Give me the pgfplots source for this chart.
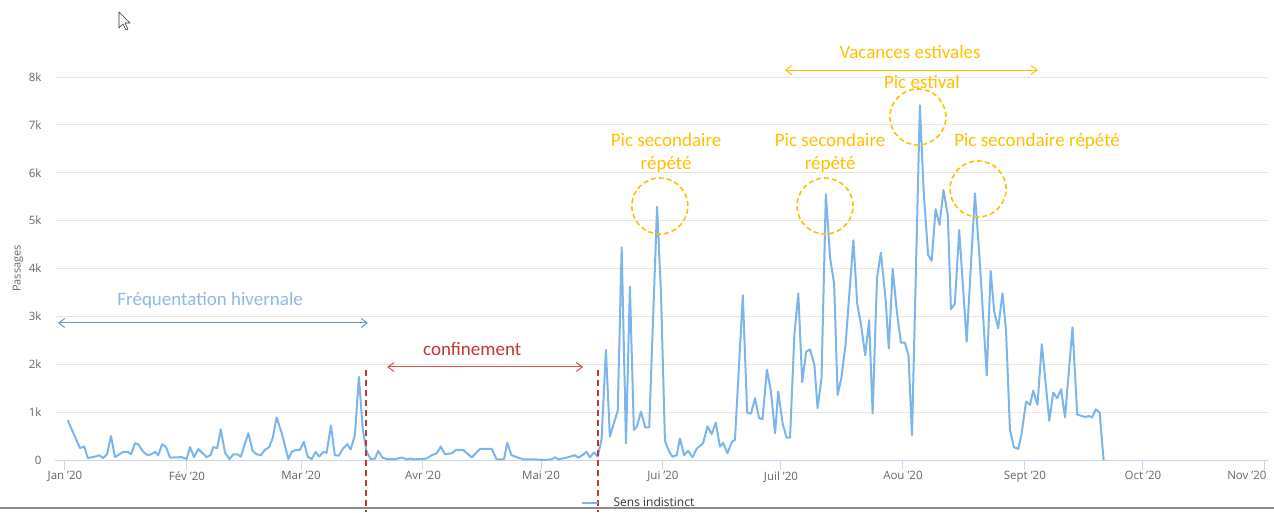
\documentclass[border=0pt]{standalone}
\usepackage{fontspec}
\setmainfont{Open Sans}
\newfontfamily\calfont{Carlito}
\usepackage{pgfplots}
\pgfplotsset{compat=1.18}
\usetikzlibrary{arrows.meta}
\definecolor{hc}{HTML}{7CB5EC}
\definecolor{gridc}{HTML}{E6E6E6}
\definecolor{axisc}{HTML}{CCD6EB}
\definecolor{labc}{HTML}{666666}
\definecolor{gold}{HTML}{FFC000}
\definecolor{lblue}{HTML}{8DB9E6}
\definecolor{mblue}{HTML}{5B9BD5}
\definecolor{dred}{HTML}{C0392B}
\definecolor{ared}{HTML}{D9534F}
\pgfplotstableread{
x y
0.7 830
3.8 250
4.9 280
5.8 40
7.6 70
8.7 100
9.7 40
10.7 120
11.7 500
12.7 60
14.8 170
15.9 170
16.8 120
17.8 350
18.6 330
19.9 170
21 100
22 120
22.9 170
23.7 100
24.7 330
25.7 270
26.7 50
29.7 60
30.9 20
31.8 270
32.8 60
33.9 230
35 140
36 60
37 100
37.7 270
38.7 250
39.6 640
40.7 150
41.8 20
42.8 120
43.8 120
44.7 70
46.6 560
47.7 190
48.7 120
49.8 100
50.8 210
51.9 270
52.8 460
53.8 890
55.1 560
56.8 15
57.6 170
58.7 210
59.7 210
60.7 380
61.7 70
62.7 20
63.7 170
64.6 70
65.7 170
66.5 150
67.6 720
68.6 100
69.6 90
70.7 240
71.8 330
72.6 220
73.7 520
74.7 1740
75.7 630
76.7 170
77.7 20
78.8 30
79.6 190
80.7 50
81.8 20
83.9 20
85.6 50
86.9 15
87.7 30
89 15
90.7 20
91.9 30
93.2 100
94.5 140
95.5 280
96.6 120
98.3 140
99.4 210
101.2 210
103.4 55
105.5 230
108.5 230
109.7 15
111.6 15
112.4 360
113.5 100
115.7 35
116.5 15
119 15
122 0
123.7 15
124.6 55
125.4 15
127.1 40
128.4 70
129.6 100
130.5 50
131.5 100
132.6 170
133.4 55
134.5 160
135.4 70
136.4 440
137.5 2300
138.5 490
140.5 1030
141.5 4440
142.6 350
143.6 3620
144.6 630
145.4 700
146.4 1010
147.5 680
148.5 680
150.5 5290
151.5 3480
152.5 400
153.6 170
154.4 70
155.5 100
156.3 450
157.4 100
158.4 190
159.5 55
160.6 240
162.2 350
163.3 700
164.4 540
165.4 780
166.5 280
167.3 360
168.4 140
169.5 380
170.3 420
172.3 3440
173.4 990
174.4 970
175.4 1290
176.4 880
177.3 850
178.4 1890
179.4 1460
180.5 560
181.3 1430
182.4 770
183.4 470
184.3 470
185.4 2610
186.4 3480
187.4 1630
188.4 2260
189.4 2310
190.5 1980
191.3 1080
192.3 1710
193.4 5550
194.5 4210
195.5 3690
196.4 1360
197.4 1740
198.4 2400
200.4 4590
201.4 3240
202.3 2850
203.4 2190
204.4 2920
205.3 970
206.4 3800
207.4 4330
208.6 3340
209.4 2330
210.4 3990
211.5 3060
212.5 2450
213.5 2450
214.4 2190
215.3 520
217.3 7410
218.3 5570
219.4 4280
220.3 4160
221.3 5240
222.3 4910
223.3 5640
224.4 5110
225.2 3150
226.2 3270
227.3 4800
229.2 2470
231.3 5570
232.4 4310
234.3 1770
235.3 3950
236.2 3100
237.2 2750
238.3 3480
239.2 2710
240.2 630
241.2 270
242.3 230
243.1 520
244.3 1220
245.3 1150
246.1 1450
247.2 1150
248.3 2420
250.2 820
251.2 1410
252.2 1290
253.2 1480
254.2 890
256.1 2770
257.3 950
258.4 920
259.4 900
260.3 920
261.1 890
262 1060
263 990
264 0
}\passages
\begin{document}
\begin{tikzpicture}
\begin{axis}[
  at={(0,0)}, anchor=south west,
  scale only axis, width=1213pt, height=383pt,
  xmin=-2.54, xmax=305.8, ymin=0, ymax=8000,
  clip=false,
  axis x line*=bottom, axis y line*=left,
  y axis line style={draw=none},
  x axis line style={color=axisc, line width=1pt},
  tick align=outside,
  major tick length=10pt,
  xtick style={color=axisc, line width=1pt},
  ytick style={draw=none},
  ymajorgrids, grid style={gridc, line width=1pt},
  scaled y ticks=false,
  ytick={0,1000,2000,3000,4000,5000,6000,7000,8000},
  yticklabels={0,1k,2k,3k,4k,5k,6k,7k,8k},
  xtick={0,31,60,91,121,152,182,213,244,274,305},
  xticklabels={Jan '20,Fév '20,Mar '20,Avr '20,Mai '20,Jui '20,Juil '20,Aou '20,Sept '20,Oct '20,\hspace*{-36pt}Nov '20},
  tick label style={font=\fontsize{11.5}{13}\selectfont, color=labc},
  xticklabel style={yshift=2pt},
  ylabel={Passages},
  ylabel style={at={(axis description cs:-0.0305,0.5)}, anchor=center, font=\fontsize{11}{13}\selectfont, color=labc},
  legend style={at={(0.481,-0.112)}, anchor=center, draw=none, fill=none,
    font=\fontsize{12}{14}\selectfont, text=black!80},
  legend image code/.code={\draw[#1] (0pt,0pt) -- (16pt,0pt);},
]
\addplot[hc, line width=2pt, line join=round, mark=none] table[x=x,y=y] {\passages};
\addlegendentry{\hspace{13pt}Sens indistinct}

% dashed vertical lines (confinement)
\draw[dred, line width=2pt, dash pattern=on 6pt off 4pt] (axis cs:76.5,1880) -- (axis cs:76.5,-1086);
\draw[dred, line width=2pt, dash pattern=on 6pt off 4pt] (axis cs:135.5,1880) -- (axis cs:135.5,-1086);

% arrows
\draw[mblue, line width=1pt, {Straight Barb[length=6pt,width=9pt]}-{Straight Barb[length=6pt,width=9pt]}] (axis cs:-1.8,2862) -- (axis cs:77.0,2862);
\draw[ared, line width=1pt, {Straight Barb[length=6pt,width=9pt]}-{Straight Barb[length=6pt,width=9pt]}] (axis cs:81.9,1943) -- (axis cs:131.7,1943);
\draw[gold, line width=1pt, {Straight Barb[length=6pt,width=9pt]}-{Straight Barb[length=6pt,width=9pt]}] (axis cs:183.0,8146) -- (axis cs:247.3,8146);

% texts
\node[lblue, font=\calfont\fontsize{19}{22}\selectfont] at (axis cs:36.9,3342) {Fréquentation hivernale};
\node[dred, font=\calfont\fontsize{19}{22}\selectfont] at (axis cs:103.5,2319) {confinement};
\node[gold, font=\calfont\fontsize{19}{22}\selectfont] at (axis cs:214.8,8522) {Vacances estivales};
\node[gold, font=\calfont\fontsize{19}{22}\selectfont] at (axis cs:217.8,7896) {Pic estival};
\node[gold, align=center, font=\calfont\fontsize{19}{23}\selectfont] at (axis cs:152.8,6423) {Pic secondaire\\répété};
\node[gold, align=center, font=\calfont\fontsize{19}{23}\selectfont] at (axis cs:194.5,6423) {Pic secondaire\\répété};
\node[gold, font=\calfont\fontsize{19}{22}\selectfont] at (axis cs:247.1,6663) {Pic secondaire répété};

% dashed circles
\draw[gold, line width=1.6pt, dash pattern=on 5pt off 3pt] (axis cs:216.8,7165) circle[radius=28pt];
\draw[gold, line width=1.6pt, dash pattern=on 5pt off 3pt] (axis cs:151.2,5305) circle[radius=28pt];
\draw[gold, line width=1.6pt, dash pattern=on 5pt off 3pt] (axis cs:193.2,5305) circle[radius=28pt];
\draw[gold, line width=1.6pt, dash pattern=on 5pt off 3pt] (axis cs:232.1,5661) circle[radius=28pt];
\end{axis}
% bottom grey rule
\draw[black!45, line width=1.2pt] (-55pt,-48pt) -- (1219pt,-48pt);
% cursor
\draw[black!80, fill=white, line width=0.6pt, line join=round] (64pt,448pt) -- (64pt,432pt) -- (68pt,436pt) -- (71pt,430pt) -- (73pt,431pt) -- (70pt,437pt) -- (75pt,437pt) -- cycle;
\pgfresetboundingbox
\useasboundingbox (-55pt,-52pt) rectangle (1219pt,460pt);
\end{tikzpicture}
\end{document}
